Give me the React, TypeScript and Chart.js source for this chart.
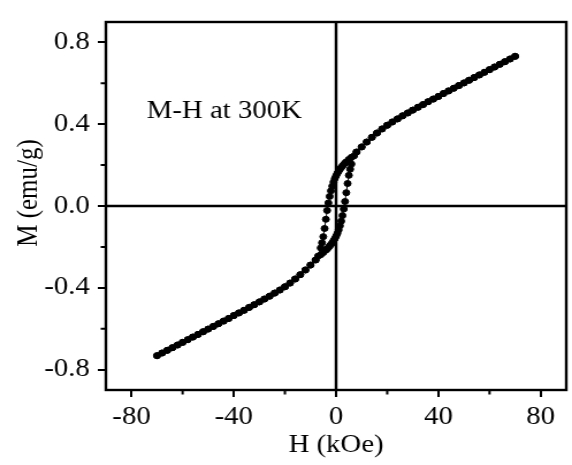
import React, { useEffect, useRef } from "react";
import { Chart, registerables } from "chart.js";

Chart.register(...registerables);

// ---- data ----
// descending branch (field swept from +70 to -70 kOe)
const downH = [
  70, 68, 66, 64, 62, 60, 58, 56, 54, 52, 50, 48, 46, 44, 42, 40, 38, 36, 34, 32,
  30, 28, 26, 24, 22, 20, 18, 16, 14, 12, 10, 8,
  6, 5, 4, 3.5, 3, 2.5, 2, 1.5, 1, 0.5, 0, -0.5, -1, -1.5, -2, -2.5, -3, -3.5, -4,
  -4.5, -5, -5.5, -6, -7,
  -8, -10, -12, -14, -16, -18, -20, -22, -24, -26, -28, -30, -32, -34, -36, -38,
  -40, -42, -44, -46, -48, -50, -52, -54, -56, -58, -60, -62, -64, -66, -68, -70,
];
const downM = [
  0.732, 0.719, 0.706, 0.693, 0.68, 0.667, 0.654, 0.641, 0.628, 0.615, 0.602, 0.589,
  0.576, 0.563, 0.55, 0.536, 0.523, 0.51, 0.496, 0.483, 0.469, 0.455, 0.441, 0.426,
  0.411, 0.395, 0.377, 0.357, 0.336, 0.313, 0.289, 0.264,
  0.238, 0.228, 0.216, 0.21, 0.203, 0.196, 0.188, 0.18, 0.17, 0.16, 0.148, 0.134,
  0.117, 0.097, 0.074, 0.047, 0.015, -0.022, -0.065, -0.11, -0.15, -0.18, -0.205, -0.245,
  -0.264, -0.289, -0.313, -0.336, -0.357, -0.377, -0.395, -0.411, -0.426, -0.441,
  -0.455, -0.469, -0.483, -0.496, -0.51, -0.523, -0.536, -0.55, -0.563, -0.576,
  -0.589, -0.602, -0.615, -0.628, -0.641, -0.654, -0.667, -0.68, -0.693, -0.706,
  -0.719, -0.732,
];
// ascending branch (field swept from -70 to +70 kOe)
const upH = [
  -70, -68, -66, -64, -62, -60, -58, -56, -54, -52, -50, -48, -46, -44, -42, -40,
  -38, -36, -34, -32, -30, -28, -26, -24, -22, -20, -18, -16, -14, -12, -10, -8,
  -6, -5, -4, -3.5, -3, -2.5, -2, -1.5, -1, -0.5, 0, 0.5, 1, 1.5, 2, 2.5, 3, 3.5, 4,
  4.5, 5, 5.5, 6, 7,
  8, 10, 12, 14, 16, 18, 20, 22, 24, 26, 28, 30, 32, 34, 36, 38, 40, 42, 44, 46,
  48, 50, 52, 54, 56, 58, 60, 62, 64, 66, 68, 70,
];
const upM = [
  -0.732, -0.719, -0.706, -0.693, -0.68, -0.667, -0.654, -0.641, -0.628, -0.615,
  -0.602, -0.589, -0.576, -0.563, -0.55, -0.536, -0.523, -0.51, -0.496, -0.483,
  -0.469, -0.455, -0.441, -0.426, -0.411, -0.395, -0.377, -0.357, -0.336, -0.313,
  -0.289, -0.264,
  -0.238, -0.228, -0.216, -0.21, -0.203, -0.196, -0.188, -0.18, -0.17, -0.16, -0.148,
  -0.134, -0.117, -0.097, -0.074, -0.047, -0.015, 0.022, 0.065, 0.11, 0.15, 0.18,
  0.205, 0.245,
  0.264, 0.289, 0.313, 0.336, 0.357, 0.377, 0.395, 0.411, 0.426, 0.441, 0.455,
  0.469, 0.483, 0.496, 0.51, 0.523, 0.536, 0.55, 0.563, 0.576, 0.589, 0.602,
  0.615, 0.628, 0.641, 0.654, 0.667, 0.68, 0.693, 0.706, 0.719, 0.732,
];

const xTicks = [-80, -40, 0, 40, 80];
const yTicks = [-0.8, -0.4, 0, 0.4, 0.8];
const xMinorTicks = [-60, -20, 20, 60];
const yMinorTicks = [-0.6, -0.2, 0.2, 0.6];
const xTitle = "H (kOe)";
const yTitle = "M (emu/g)";
const noteText = "M-H at 300K";
const noteAt = { h: -74, m: 0.43 };

// ---- layout / style ----
const PAGE_W = 572;
const PAGE_H = 465;
const STRETCH = 1.15; // reference is horizontally stretched
const CANVAS_W = Math.round(PAGE_W / STRETCH);
const FONT = '"Liberation Serif", "Times New Roman", Times, serif';
const FONT_SIZE = 25;
const Y_TITLE_X = 25;
const Y_TITLE_SHIFT = -13;

const framePlugin = {
  id: "frame",
  beforeDatasetsDraw(chart: any) {
    const { ctx, chartArea: a, scales } = chart;
    const x0 = scales.x.getPixelForValue(0);
    const y0 = scales.y.getPixelForValue(0);
    ctx.save();
    ctx.strokeStyle = "#000";
    ctx.lineWidth = 2.4;
    ctx.beginPath();
    ctx.moveTo(x0, a.top);
    ctx.lineTo(x0, a.bottom);
    ctx.moveTo(a.left, y0);
    ctx.lineTo(a.right, y0);
    ctx.stroke();
    ctx.restore();
  },
  afterDatasetsDraw(chart: any) {
    const { ctx, chartArea: a, scales } = chart;
    ctx.save();
    ctx.strokeStyle = "#000";
    ctx.lineWidth = 2.4;
    ctx.strokeRect(a.left, a.top, a.right - a.left, a.bottom - a.top);
    ctx.lineWidth = 2;
    ctx.beginPath();
    xMinorTicks.forEach((v) => {
      const px = scales.x.getPixelForValue(v);
      ctx.moveTo(px, a.bottom);
      ctx.lineTo(px, a.bottom + 4.5);
    });
    yMinorTicks.forEach((v) => {
      const py = scales.y.getPixelForValue(v);
      ctx.moveTo(a.left, py);
      ctx.lineTo(a.left - 4.5, py);
    });
    ctx.stroke();
    ctx.fillStyle = "#000";
    ctx.font = `${FONT_SIZE}px ${FONT}`;
    ctx.textAlign = "left";
    ctx.textBaseline = "alphabetic";
    ctx.fillText(
      noteText,
      scales.x.getPixelForValue(noteAt.h),
      scales.y.getPixelForValue(noteAt.m)
    );
    // y axis title
    ctx.translate(Y_TITLE_X, (a.top + a.bottom) / 2 + Y_TITLE_SHIFT);
    ctx.rotate(-Math.PI / 2);
    ctx.textAlign = "center";
    ctx.textBaseline = "middle";
    ctx.fillText(yTitle, 0, 0);
    ctx.restore();
  },
};

export default function App() {
  const ref = useRef<HTMLCanvasElement>(null);

  useEffect(() => {
    if (!ref.current) return;
    const mk = (hs: number[], ms: number[]) => hs.map((h, i) => ({ x: h, y: ms[i] }));
    const dsStyle = {
      showLine: true,
      borderColor: "#000",
      borderWidth: 1,
      pointRadius: 3,
      pointBorderWidth: 1,
      pointBackgroundColor: "#000",
      pointBorderColor: "#000",
    };
    const font = { family: FONT, size: FONT_SIZE };
    const chart = new Chart(ref.current, {
      type: "scatter",
      data: {
        datasets: [
          { label: "down", data: mk(downH, downM), ...dsStyle },
          { label: "up", data: mk(upH, upM), ...dsStyle },
        ],
      },
      options: {
        responsive: false,
        animation: false,
        devicePixelRatio: 1,
        layout: { padding: { top: 10, right: 2, left: 0, bottom: 0 } },
        plugins: { legend: { display: false }, tooltip: { enabled: false } },
        scales: {
          x: {
            type: "linear",
            min: -90,
            max: 90,
            afterBuildTicks: (s: any) => {
              s.ticks = xTicks.map((v) => ({ value: v }));
            },
            afterFit: (s: any) => {
              s.height = 75;
            },
            grid: { drawOnChartArea: false, drawTicks: true, tickLength: 7, lineWidth: 2, color: "#000" },
            border: { display: false },
            ticks: {
              color: "#000",
              font,
              padding: 5,
              maxRotation: 0,
              autoSkip: false,
              callback: (v: any) => String(v),
            },
            title: { display: true, text: xTitle, color: "#000", font, padding: { top: 0, bottom: 5 } },
          },
          y: {
            type: "linear",
            min: -0.9,
            max: 0.9,
            afterBuildTicks: (s: any) => {
              s.ticks = yTicks.map((v) => ({ value: v }));
            },
            afterFit: (s: any) => {
              s.width = 92;
            },
            grid: { drawOnChartArea: false, drawTicks: true, tickLength: 7, lineWidth: 2, color: "#000" },
            border: { display: false },
            ticks: {
              color: "#000",
              font,
              padding: 7,
              autoSkip: false,
              callback: (v: any) => Number(v).toFixed(1),
            },
            title: { display: false },
          },
        },
      },
      plugins: [framePlugin],
    } as any);
    return () => chart.destroy();
  }, []);

  return (
    <div style={{ position: "absolute", left: 0, top: 0, width: PAGE_W, height: PAGE_H, background: "#fff" }}>
      <canvas
        ref={ref}
        width={CANVAS_W}
        height={PAGE_H}
        style={{ display: "block", width: `${PAGE_W}px`, height: `${PAGE_H}px` }}
      />
    </div>
  );
}
